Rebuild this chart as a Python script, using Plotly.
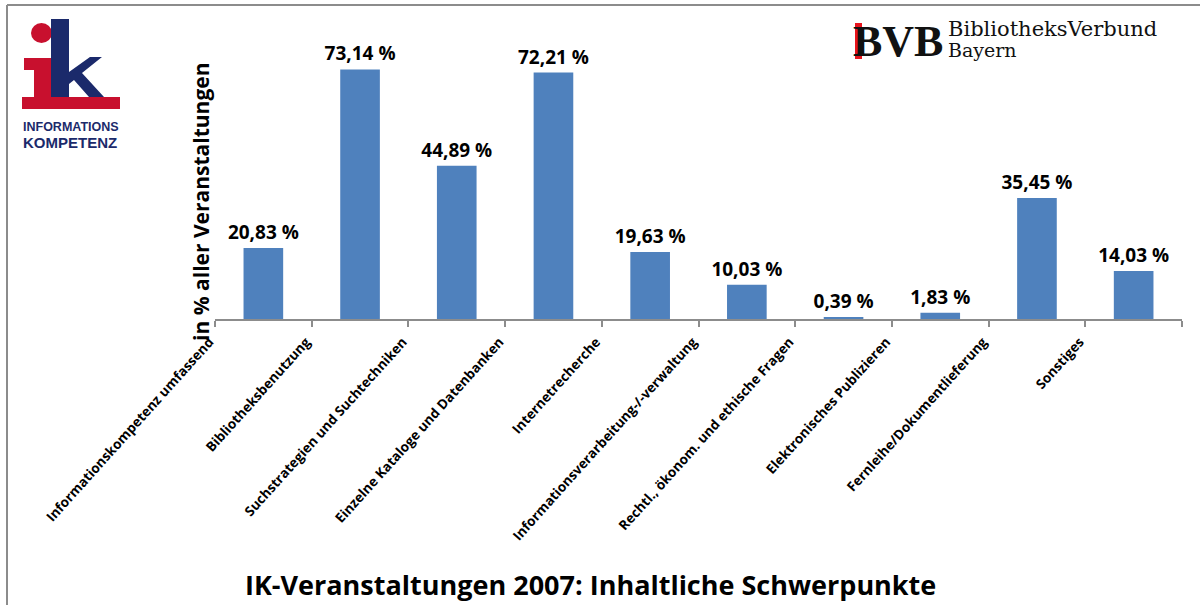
import plotly.graph_objects as go

categories = [
    "Informationskompetenz umfassend",
    "Bibliotheksbenutzung",
    "Suchstrategien und Suchtechniken",
    "Einzelne Kataloge und Datenbanken",
    "Internetrecherche",
    "Informationsverarbeitung-/-verwaltung",
    "Rechtl., ökonom. und ethische Fragen",
    "Elektronisches Publizieren",
    "Fernleihe/Dokumentlieferung",
    "Sonstiges",
]
values = [20.83, 73.14, 44.89, 72.21, 19.63, 10.03, 0.39, 1.83, 35.45, 14.03]
value_labels = ["20,83 %", "73,14 %", "44,89 %", "72,21 %", "19,63 %",
                "10,03 %", "0,39 %", "1,83 %", "35,45 %", "14,03 %"]

title_text = "IK-Veranstaltungen 2007: Inhaltliche Schwerpunkte"
ytitle_text = "in % aller Veranstaltungen"

W_IMG, H_IMG = 1200, 605
L, R, T, B = 215, 18, 46, 286
PW = W_IMG - L - R
PH = H_IMG - T - B

def px(x):
    return (x - L) / PW

def py(y):
    return (H_IMG - B - y) / PH

FONT = "Open Sans"

fig = go.Figure(go.Bar(
    x=categories, y=values, text=value_labels,
    textposition="outside", cliponaxis=False, constraintext="none",
    marker=dict(color="#4F81BD", line=dict(width=0)),
    textfont=dict(family=FONT, size=19, color="#000000", weight="bold"),
    hoverinfo="skip",
))

shapes = []
# frame lines (top and left)
shapes.append(dict(type="line", xref="paper", yref="paper",
                   x0=px(7), x1=px(1200), y0=py(5), y1=py(5),
                   line=dict(color="#8c8c8c", width=2)))
shapes.append(dict(type="line", xref="paper", yref="paper",
                   x0=px(7), x1=px(7), y0=py(5), y1=py(605),
                   line=dict(color="#8c8c8c", width=2)))

def path(points):
    return "M " + " L ".join(f"{px(a):.5f},{py(b):.5f}" for a, b in points) + " Z"

red = "#C8102E"
blue = "#1B2A6B"
# ik logo: red i
shapes.append(dict(type="circle", xref="paper", yref="paper",
                   x0=px(31), x1=px(52), y0=py(23), y1=py(43),
                   fillcolor=red, line=dict(width=0)))
shapes.append(dict(type="path", xref="paper", yref="paper",
                   path=path([(24, 58), (51, 58), (51, 98), (34, 98), (34, 70), (24, 70)]),
                   fillcolor=red, line=dict(width=0)))
shapes.append(dict(type="rect", xref="paper", yref="paper",
                   x0=px(22), x1=px(120), y0=py(97), y1=py(109),
                   fillcolor=red, line=dict(width=0)))
# blue k
shapes.append(dict(type="rect", xref="paper", yref="paper",
                   x0=px(51), x1=px(69), y0=py(19), y1=py(97),
                   fillcolor=blue, line=dict(width=0)))
shapes.append(dict(type="path", xref="paper", yref="paper",
                   path=path([(69, 72), (90, 57), (102, 57), (82, 73), (104, 97),
                              (89, 97), (74, 80), (69, 84)]),
                   fillcolor=blue, line=dict(width=0)))

annotations = [
    dict(text="INFORMATIONS", x=px(21), y=py(127), xref="paper", yref="paper",
         xanchor="left", yanchor="middle", showarrow=False,
         font=dict(family="Liberation Sans", size=12.5, color=blue, weight="bold")),
    dict(text="KOMPETENZ", x=px(21), y=py(142), xref="paper", yref="paper",
         xanchor="left", yanchor="middle", showarrow=False,
         font=dict(family="Liberation Sans", size=15, color=blue, weight="bold")),
    # BVB logo
    dict(text="BVB", x=px(851), y=py(41), xref="paper", yref="paper",
         xanchor="left", yanchor="middle", showarrow=False,
         font=dict(family="Liberation Serif", size=44, color="#111111", weight="bold")),
    dict(text="BibliotheksVerbund", x=px(946), y=py(29), xref="paper", yref="paper",
         xanchor="left", yanchor="middle", showarrow=False,
         font=dict(family="DejaVu Serif", size=21, color="#111111")),
    dict(text="Bayern", x=px(946), y=py(50), xref="paper", yref="paper",
         xanchor="left", yanchor="middle", showarrow=False,
         font=dict(family="DejaVu Serif", size=19, color="#111111")),
    # title
    dict(text=title_text, x=px(590), y=py(584), xref="paper", yref="paper",
         xanchor="center", yanchor="middle", showarrow=False,
         font=dict(family=FONT, size=27, color="#000000", weight="bold")),
    # y title
    dict(text=ytitle_text, x=px(201), y=py(202), xref="paper", yref="paper",
         xanchor="center", yanchor="middle", showarrow=False, textangle=-90,
         font=dict(family=FONT, size=21, color="#000000", weight="bold")),
]

# red stem of first B
shapes.append(dict(type="rect", xref="paper", yref="paper",
                   x0=px(855), x1=px(862), y0=py(23), y1=py(59),
                   fillcolor="#E8141C", line=dict(width=0), layer="above"))

fig.update_layout(
    width=W_IMG, height=H_IMG,
    margin=dict(l=L, r=R, t=T, b=B, autoexpand=False),
    paper_bgcolor="white", plot_bgcolor="white",
    bargap=0.59, showlegend=False, hovermode=False,
    shapes=shapes, annotations=annotations,
    xaxis=dict(
        showline=True, linecolor="#8c8c8c", linewidth=1.5,
        ticks="outside", ticklen=6, tickcolor="#8c8c8c", tickwidth=1.5,
        tickson="boundaries", tickangle=-48, ticklabelshift=-54, ticklabelstandoff=8,
        tickfont=dict(family=FONT, size=13.5, color="#000000", weight="bold"),
        showgrid=False, fixedrange=True,
    ),
    yaxis=dict(range=[0, 80], visible=False, showgrid=False, fixedrange=True),
)

fig.write_html("out.html", config={"displayModeBar": False},
               post_script="document.body.style.margin='0';")
